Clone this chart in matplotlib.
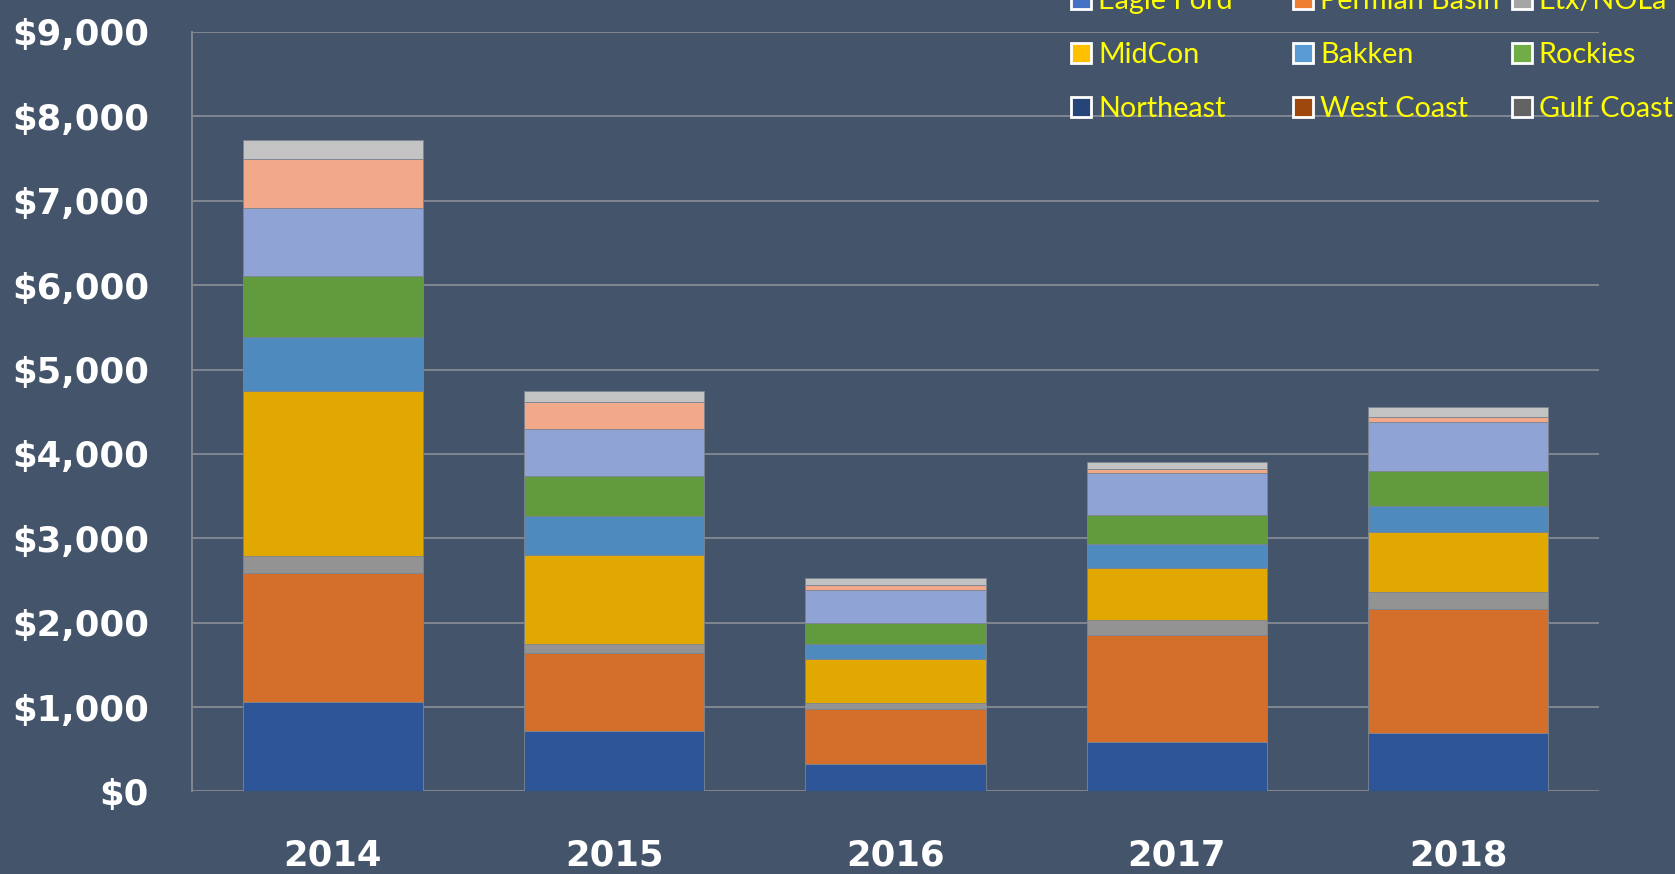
import matplotlib.pyplot as plt
from matplotlib.patches import Patch
from matplotlib.ticker import FuncFormatter
import numpy as np

years = ["2014", "2015", "2016", "2017", "2018"]

# Spend by basin, bottom of the stack first
eagle_ford = [1060, 713, 322, 586, 693]
permian_basin = [1527, 924, 652, 1272, 1469]
etx_nola = [205, 111, 71, 174, 202]
midcon = [1953, 1058, 521, 616, 711]
bakken = [635, 454, 185, 284, 311]
rockies = [730, 478, 242, 340, 411]
northeast = [810, 557, 391, 498, 585]
west_coast = [580, 320, 66, 51, 59]
gulf_coast = [220, 127, 76, 83, 111]

series_names = ["Eagle Ford", "Permian Basin", "Etx/NOLa", "MidCon", "Bakken",
                "Rockies", "Northeast", "West Coast", "Gulf Coast"]
series_values = [eagle_ford, permian_basin, etx_nola, midcon, bakken,
                 rockies, northeast, west_coast, gulf_coast]

bar_colors = ["#2E5597", "#D36F2A", "#939393", "#E0A800", "#4E8ABD",
              "#629A3E", "#8FA3D5", "#F1A98A", "#C3C3C3"]
legend_colors = ["#4472C4", "#ED7D31", "#A5A5A5", "#FFC000", "#5B9BD5",
                 "#70AD47", "#264478", "#9E480E", "#636363"]

bg = "#44546A"

fig = plt.figure(figsize=(16.75, 8.74), dpi=100, facecolor=bg)
ax = fig.add_axes([0.1146, 0.0944, 0.8400, 0.8690])
ax.set_facecolor(bg)

x = np.arange(len(years))
bottom = np.zeros(len(years))
for vals, col in zip(series_values, bar_colors):
    ax.bar(x, vals, width=0.64, bottom=bottom, color=col,
           edgecolor="#7d8590", linewidth=0.6, zorder=3)
    bottom += np.array(vals)

ax.set_xlim(-0.5, 4.5)
ax.set_ylim(0, 9000)
ax.set_yticks(np.arange(0, 9001, 1000))
ax.yaxis.set_major_formatter(FuncFormatter(lambda v, p: f"${v:,.0f}"))
ax.set_xticks(x)
ax.set_xticklabels(years)

ax.grid(axis="y", color="#858b94", linewidth=1.3, zorder=0)
ax.tick_params(axis="both", length=0, colors="white", labelsize=25.5)
ax.tick_params(axis="y", pad=31)
ax.tick_params(axis="x", pad=34)
for lab in ax.get_xticklabels() + ax.get_yticklabels():
    lab.set_fontweight("bold")

for side in ["top", "right", "bottom"]:
    ax.spines[side].set_visible(False)
ax.spines["left"].set_color("#858b94")
ax.spines["left"].set_linewidth(1.3)

# legend: three equal-width columns, laid out row by row
col_x = [0.6395, 0.7717, 0.9024]
for c in range(3):
    idx = [c, c + 3, c + 6]
    hs = [Patch(facecolor=legend_colors[i], edgecolor="white", linewidth=2) for i in idx]
    leg = fig.legend(hs, [series_names[i] for i in idx],
                     loc="upper left", bbox_to_anchor=(col_x[c], 1.014),
                     frameon=False, prop={"family": "Lato", "size": 20.7},
                     handlelength=0.7, handleheight=0.7, handletextpad=0.25,
                     labelspacing=0.98, borderpad=0, borderaxespad=0)
    for t in leg.get_texts():
        t.set_color("#FFFF00")

fig.savefig("out.png", facecolor=bg)
